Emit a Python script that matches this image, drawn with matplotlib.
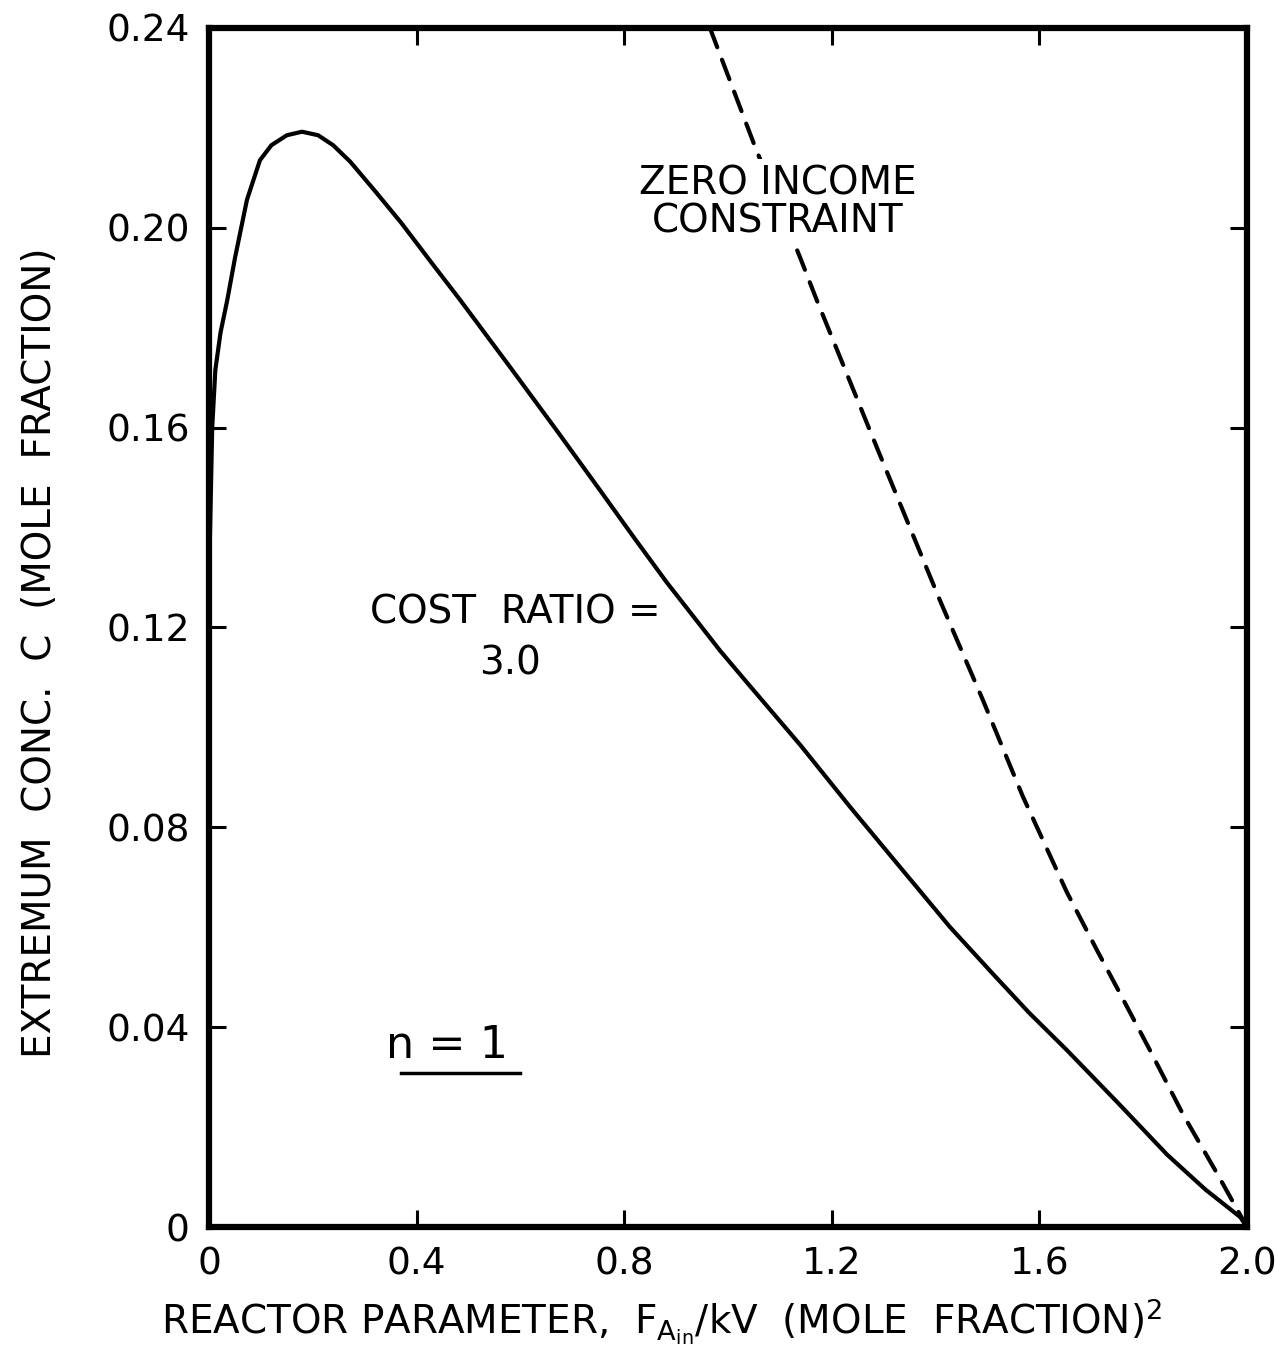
import matplotlib
matplotlib.use("Agg")
import matplotlib.pyplot as plt

plt.rcParams['font.family'] = ['DejaVu Sans']
plt.rcParams['mathtext.default'] = 'regular'

# cost ratio = 3.0 curve
cost_x = [0.0, 0.003, 0.006, 0.012, 0.022, 0.035, 0.05, 0.073, 0.098, 0.12,
          0.15, 0.179, 0.21, 0.239, 0.272, 0.32, 0.37, 0.43, 0.484, 0.58,
          0.67, 0.753, 0.82, 0.882, 0.94, 0.985, 1.042, 1.139, 1.235, 1.331,
          1.428, 1.511, 1.58, 1.653, 1.75, 1.846, 1.92, 1.987, 2.0]
cost_y = [0.13, 0.145, 0.16, 0.1715, 0.179, 0.1855, 0.194, 0.2056, 0.2135, 0.2165,
          0.2185, 0.2192, 0.2185, 0.2165, 0.2132, 0.2073, 0.201, 0.1928, 0.1855, 0.1721,
          0.1594, 0.1475, 0.1378, 0.1290, 0.1213, 0.1153, 0.1083, 0.0965, 0.0841, 0.0721,
          0.0600, 0.0506, 0.0429, 0.0354, 0.0250, 0.0145, 0.0075, 0.002, 0.0]

# zero income constraint (dashed)
zero_x = [0.965, 1.052, 1.139, 1.171, 1.29, 1.408, 1.491, 1.568, 1.653, 1.711,
          1.750, 1.813, 1.877, 1.942, 2.0]
zero_y = [0.240, 0.2162, 0.194, 0.1855, 0.1552, 0.1255, 0.1055, 0.0862, 0.067, 0.0554,
          0.0478, 0.0354, 0.0225, 0.0108, 0.0]

xticks = [0, 0.4, 0.8, 1.2, 1.6, 2.0]
xlabels = ['0', '0.4', '0.8', '1.2', '1.6', '2.0']
yticks = [0, 0.04, 0.08, 0.12, 0.16, 0.20, 0.24]
ylabels = ['0', '0.04', '0.08', '0.12', '0.16', '0.20', '0.24']

fig = plt.figure(figsize=(12.75, 13.69), dpi=100)
ax = fig.add_axes([0.164, 0.1037, 0.814, 0.876])

ax.plot(cost_x, cost_y, color='black', lw=3.0, solid_capstyle='round',
        solid_joinstyle='round')
ax.plot(zero_x, zero_y, color='black', lw=3.0, dashes=(5, 3.2), dash_capstyle='round')

ax.set_xlim(0, 2.0)
ax.set_ylim(0, 0.24)
ax.set_xticks(xticks)
ax.set_xticklabels(xlabels)
ax.set_yticks(yticks)
ax.set_yticklabels(ylabels)
ax.tick_params(direction='in', length=12, width=2.2, labelsize=27,
               top=True, right=True, pad=14)
ax.tick_params(axis='y', pad=14)
for s in ax.spines.values():
    s.set_linewidth(4.5)

ax.set_xlabel(r'REACTOR PARAMETER,  $F_{A_{in}}$/kV  (MOLE  FRACTION)$^2$', fontsize=28)
ax.set_ylabel('EXTREMUM  CONC.  C  (MOLE  FRACTION)', fontsize=28)
ax.xaxis.set_label_coords(0.436, -0.058)
ax.yaxis.set_label_coords(-0.145, 0.479)

ax.text(1.096, 0.2050, 'ZERO INCOME\nCONSTRAINT', fontsize=28, ha='center', va='center',
        linespacing=1.0, bbox=dict(facecolor='white', edgecolor='none', pad=4))
ax.text(0.31, 0.1229, 'COST  RATIO =', fontsize=28, ha='left', va='center')
ax.text(0.58, 0.1127, '3.0', fontsize=28, ha='center', va='center')
ax.text(0.459, 0.0364, 'n = 1', fontsize=32, ha='center', va='center')
ax.plot([0.37, 0.60], [0.0309, 0.0309], color='black', lw=2.5)

fig.savefig('out.png', dpi=100)
